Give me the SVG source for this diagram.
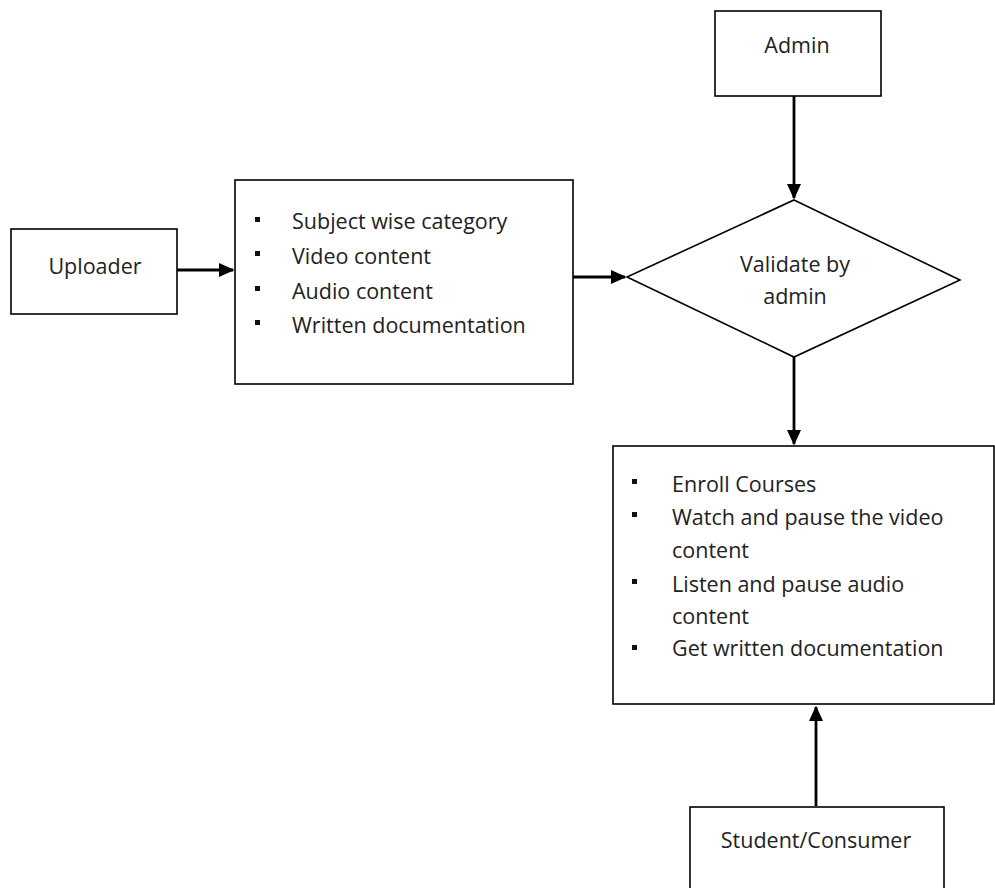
<svg xmlns="http://www.w3.org/2000/svg" width="995" height="888" viewBox="0 0 995 888">
<style>
.box{fill:#fff;stroke:#000;stroke-width:1.6}
.t{font-family:"Open Sans","Liberation Sans",sans-serif;font-size:21.5px;fill:#222}
.c{text-anchor:middle}
.b{fill:#111}
.con{stroke:#000;stroke-width:2.8;fill:none;marker-end:url(#ah)}
</style>
<defs>
<marker id="ah" markerWidth="5.5" markerHeight="5" refX="5" refY="2.5" orient="auto" markerUnits="strokeWidth">
<path d="M0,0 L5.5,2.5 L0,5 z" fill="#000"/>
</marker>
</defs>
<rect width="995" height="888" fill="#fff"/>
<g id="connectors">
<line class="con" x1="177" y1="270" x2="233" y2="270"/>
<line class="con" x1="568" y1="277" x2="625" y2="277"/>
<line class="con" x1="794" y1="96" x2="794" y2="198"/>
<line class="con" x1="794" y1="357" x2="794" y2="444"/>
<line class="con" x1="816" y1="806" x2="816" y2="707"/>
</g>
<g id="uploader">
<rect class="box" x="11" y="229" width="166" height="85"/>
<text class="t c" x="95" y="274">Uploader</text>
</g>
<g id="content">
<rect class="box" x="235" y="180" width="338" height="204"/>
<rect class="b" x="255" y="217" width="5" height="5"/>
<rect class="b" x="255" y="251" width="5" height="5"/>
<rect class="b" x="255" y="286" width="5" height="5"/>
<rect class="b" x="255" y="320" width="5" height="5"/>
<text class="t" x="292" y="229">Subject wise category</text>
<text class="t" x="292" y="264">Video content</text>
<text class="t" x="292" y="299">Audio content</text>
<text class="t" x="292" y="333">Written documentation</text>
</g>
<g id="admin">
<rect class="box" x="715" y="11" width="166" height="85"/>
<text class="t c" x="797" y="53">Admin</text>
</g>
<g id="validate">
<polygon class="box" points="794,200 960,280 794,357 627,277"/>
<text class="t c" x="795" y="272">Validate by</text>
<text class="t c" x="795" y="304">admin</text>
</g>
<g id="consumer-actions">
<rect class="box" x="613" y="446" width="381" height="258"/>
<rect class="b" x="632" y="479" width="5" height="5"/>
<rect class="b" x="632" y="512" width="5" height="5"/>
<rect class="b" x="632" y="579" width="5" height="5"/>
<rect class="b" x="632" y="645" width="5" height="5"/>
<text class="t" x="672" y="492">Enroll Courses</text>
<text class="t" x="672" y="525">Watch and pause the video</text>
<text class="t" x="672" y="558">content</text>
<text class="t" x="672" y="592">Listen and pause audio</text>
<text class="t" x="672" y="624">content</text>
<text class="t" x="672" y="656">Get written documentation</text>
</g>
<g id="student">
<rect class="box" x="690" y="807" width="254" height="100"/>
<text class="t c" x="816" y="848">Student/Consumer</text>
</g>
</svg>
